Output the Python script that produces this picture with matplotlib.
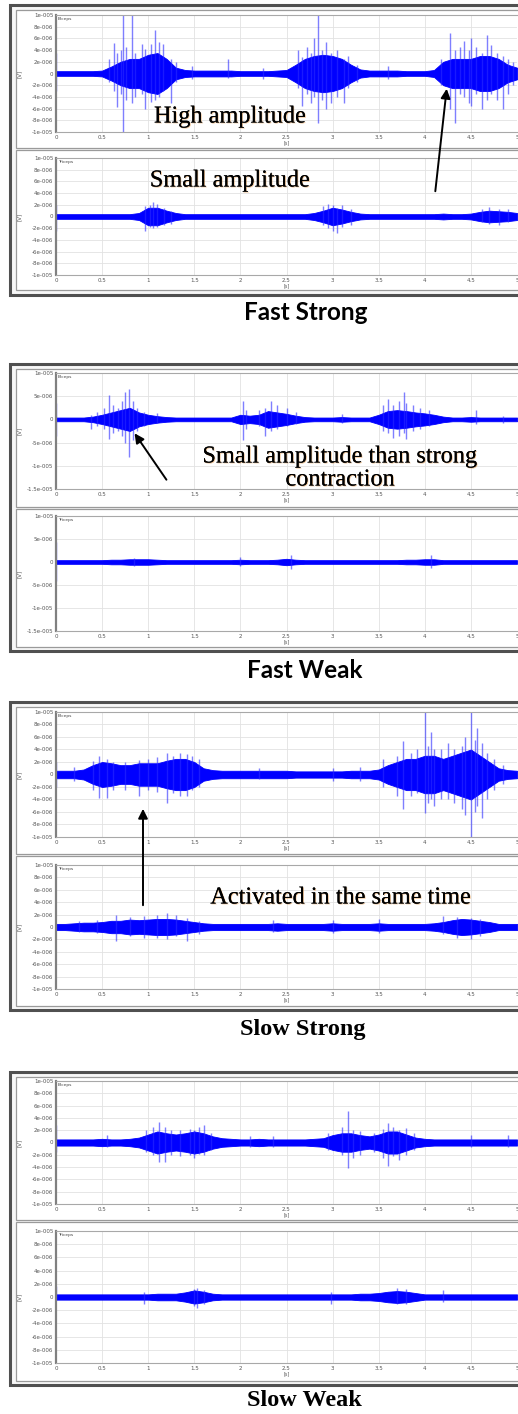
import numpy as np
import matplotlib
matplotlib.use('Agg')
import matplotlib.pyplot as plt
import matplotlib.patheffects as pe
from matplotlib.patches import Rectangle, FancyArrowPatch
from matplotlib.ticker import FuncFormatter

W, H = 518, 1414

# time grid of the envelope readings (s)
t_env = np.linspace(0, 5, 51)

# dense core amplitude of each trace, in 1e-6 V, read every 0.1 s
fs_bic_core = [0.4, 0.4, 0.4, 0.4, 0.4, 0.5, 1.2, 2.0, 2.5, 2.5,
               3.2, 3.5, 2.5, 1.0, 0.6, 0.5, 0.5, 0.5, 0.5, 0.5,
               0.4, 0.4, 0.4, 0.4, 0.5, 0.6, 1.5, 2.5, 3.0, 3.2,
               3.0, 2.5, 1.5, 0.7, 0.5, 0.5, 0.5, 0.5, 0.4, 0.4,
               0.4, 0.6, 2.0, 2.5, 2.5, 2.5, 3.0, 3.0, 2.5, 1.5,
               1.0]
fs_tri_core = [0.4, 0.4, 0.4, 0.4, 0.4, 0.4, 0.4, 0.4, 0.4, 0.6,
               1.5, 1.5, 1.0, 0.6, 0.4, 0.4, 0.4, 0.4, 0.4, 0.4,
               0.4, 0.4, 0.4, 0.4, 0.4, 0.4, 0.4, 0.4, 0.6, 1.0,
               1.5, 1.2, 0.8, 0.5, 0.4, 0.4, 0.4, 0.4, 0.4, 0.4,
               0.4, 0.4, 0.5, 0.4, 0.4, 0.5, 0.8, 1.0, 0.9, 0.8,
               0.6]
fw_bic_core = [0.4, 0.4, 0.4, 0.4, 0.6, 1.0, 1.5, 2.0, 2.5, 1.5,
               1.0, 0.7, 0.5, 0.4, 0.4, 0.4, 0.4, 0.4, 0.4, 0.4,
               1.0, 0.8, 1.0, 1.8, 1.5, 1.2, 0.8, 0.5, 0.4, 0.4,
               0.4, 0.5, 0.4, 0.4, 0.4, 1.0, 1.8, 2.0, 1.8, 1.5,
               1.3, 1.0, 0.6, 0.4, 0.4, 0.5, 0.4, 0.4, 0.4, 0.4,
               0.4]
fw_tri_core = [0.4, 0.4, 0.4, 0.4, 0.4, 0.4, 0.5, 0.5, 0.6, 0.6,
               0.6, 0.5, 0.4, 0.4, 0.4, 0.4, 0.4, 0.4, 0.4, 0.4,
               0.5, 0.4, 0.4, 0.4, 0.5, 0.7, 0.5, 0.4, 0.4, 0.4,
               0.4, 0.4, 0.4, 0.4, 0.4, 0.4, 0.4, 0.4, 0.5, 0.5,
               0.6, 0.6, 0.4, 0.4, 0.4, 0.4, 0.4, 0.4, 0.4, 0.4,
               0.4]
ss_bic_core = [0.6, 0.6, 0.6, 0.8, 1.5, 2.0, 1.8, 1.5, 1.5, 1.8,
               1.8, 1.8, 2.2, 2.5, 2.5, 2.0, 1.0, 0.7, 0.6, 0.6,
               0.6, 0.6, 0.6, 0.6, 0.6, 0.6, 0.5, 0.5, 0.5, 0.5,
               0.5, 0.5, 0.6, 0.6, 0.6, 0.8, 1.5, 2.0, 2.5, 2.5,
               3.0, 3.0, 2.5, 3.0, 3.5, 4.0, 3.0, 2.0, 1.0, 0.7,
               0.6]
ss_tri_core = [0.5, 0.5, 0.6, 0.7, 0.7, 0.8, 1.0, 1.0, 1.2, 1.1,
               1.2, 1.3, 1.3, 1.2, 1.0, 0.8, 0.6, 0.5, 0.5, 0.5,
               0.5, 0.5, 0.5, 0.5, 0.6, 0.5, 0.5, 0.5, 0.5, 0.5,
               0.6, 0.5, 0.5, 0.5, 0.5, 0.6, 0.5, 0.5, 0.5, 0.5,
               0.5, 0.6, 0.8, 1.1, 1.3, 1.2, 1.0, 0.8, 0.5, 0.5,
               0.5]
sw_bic_core = [0.5, 0.5, 0.5, 0.5, 0.5, 0.6, 0.5, 0.5, 0.6, 0.8,
               1.3, 1.8, 1.5, 1.3, 1.5, 1.8, 1.5, 1.0, 0.7, 0.6,
               0.5, 0.5, 0.6, 0.5, 0.5, 0.5, 0.5, 0.5, 0.6, 0.7,
               1.2, 1.5, 1.5, 1.2, 1.0, 1.3, 1.8, 1.8, 1.3, 0.8,
               0.6, 0.5, 0.5, 0.5, 0.5, 0.5, 0.5, 0.5, 0.5, 0.5,
               0.5]
sw_tri_core = [0.4, 0.4, 0.4, 0.4, 0.4, 0.4, 0.4, 0.4, 0.4, 0.4,
               0.4, 0.5, 0.5, 0.5, 0.7, 1.0, 0.8, 0.5, 0.4, 0.4,
               0.4, 0.4, 0.4, 0.4, 0.4, 0.4, 0.4, 0.4, 0.4, 0.4,
               0.4, 0.4, 0.4, 0.5, 0.5, 0.6, 0.8, 0.9, 0.8, 0.6,
               0.4, 0.4, 0.4, 0.4, 0.4, 0.4, 0.4, 0.4, 0.4, 0.4,
               0.4]

# single spikes: (time s, top, bottom) in 1e-6 V
fs_bic_spikes = [(0.005, 3.5, -3.0), (0.58, 2.5, -1.5), (0.63, 5.2, -3.0), (0.66, 3.5, -5.8),
                 (0.70, 4.0, -3.5), (0.73, 10, -10), (0.76, 4.5, -4.5), (0.82, 10, -5.0),
                 (0.86, 3.5, -4.0), (0.93, 5.0, -3.5), (0.97, 4.2, -6.0), (1.03, 5.0, -4.8),
                 (1.07, 7.5, -4.5), (1.12, 5.3, -4.0), (1.16, 5.0, -3.0), (1.25, 2.5, -5.0),
                 (1.30, 2.0, -1.5), (1.48, 1.3, -1.0), (1.87, 2.5, -0.8), (2.25, 1.0, -1.0),
                 (2.62, 4.0, -2.5), (2.67, 2.8, -5.5), (2.72, 4.5, -3.5), (2.77, 3.5, -5.0),
                 (2.80, 6.0, -4.0), (2.84, 10, -8.5), (2.88, 4.0, -4.5), (2.93, 5.3, -6.0),
                 (2.98, 3.5, -5.0), (3.05, 4.0, -4.0), (3.12, 2.5, -5.0), (3.17, 3.0, -2.5),
                 (3.27, 1.5, -1.5), (3.60, 1.2, -1.0), (4.18, 2.5, -2.0), (4.27, 7.0, -6.0),
                 (4.33, 4.0, -8.4), (4.38, 4.5, -3.5), (4.42, 5.5, -4.0), (4.48, 4.0, -5.0),
                 (4.50, 6.0, -5.5), (4.56, 4.5, -3.5), (4.62, 3.5, -6.0), (4.67, 6.5, -4.5),
                 (4.72, 4.8, -3.5), (4.78, 3.5, -4.5), (4.85, 3.0, -6.0), (4.90, 2.5, -3.5),
                 (4.96, 2.0, -2.0)]
fs_tri_spikes = [(0.005, 2.0, -2.5), (0.97, 1.8, -2.5), (1.02, 2.0, -1.8), (1.05, 2.5, -2.0),
                 (1.10, 2.2, -1.8), (1.17, 1.5, -1.5), (1.25, 1.0, -1.2), (2.90, 1.8, -1.5),
                 (2.95, 2.2, -2.0), (3.00, 2.0, -2.5), (3.05, 1.5, -2.8), (3.10, 2.0, -1.8),
                 (3.20, 1.2, -1.5), (4.62, 1.2, -1.0), (4.70, 1.7, -1.2), (4.80, 1.3, -1.5),
                 (4.90, 1.2, -1.0)]
fw_bic_spikes = [(0.005, 3.6, -3.6), (0.38, 1.0, -2.0), (0.45, 1.5, -1.5), (0.52, 2.5, -2.0),
                 (0.57, 5.2, -4.3), (0.62, 3.0, -3.0), (0.67, 2.5, -2.5), (0.72, 4.0, -3.5),
                 (0.75, 5.8, -5.0), (0.79, 6.6, -8.1), (0.83, 4.0, -4.5), (0.88, 2.5, -2.5),
                 (0.95, 1.5, -1.5), (1.10, 1.3, -0.8), (2.03, 4.0, -4.5), (2.06, 2.0, -2.0),
                 (2.20, 2.0, -1.5), (2.27, 2.5, -3.5), (2.33, 4.0, -2.5), (2.40, 3.0, -2.0),
                 (2.50, 2.5, -1.5), (2.60, 1.5, -1.0), (3.10, 1.2, -0.8), (3.55, 3.0, -2.5),
                 (3.60, 4.5, -3.0), (3.65, 3.0, -4.0), (3.72, 4.0, -3.5), (3.77, 6.0, -3.0),
                 (3.80, 3.5, -4.2), (3.87, 3.0, -2.5), (3.95, 2.5, -2.0), (4.05, 2.0, -1.5),
                 (4.55, 2.0, -1.0), (4.85, 0.8, -0.8)]
fw_tri_spikes = [(0.005, 4.3, -4.2), (0.85, 0.9, -0.9), (2.00, 1.0, -0.8), (2.55, 1.5, -1.5),
                 (4.07, 1.5, -1.2)]
ss_bic_spikes = [(0.005, 2.0, -2.0), (0.20, 1.2, -1.0), (0.40, 2.2, -2.5), (0.47, 2.9, -3.8),
                 (0.55, 2.5, -3.7), (0.62, 2.0, -2.5), (0.75, 2.0, -2.5), (0.90, 2.3, -3.5),
                 (1.00, 2.5, -2.5), (1.10, 2.8, -2.8), (1.20, 3.5, -4.5), (1.27, 3.0, -3.0),
                 (1.35, 3.5, -3.5), (1.42, 3.3, -3.5), (1.48, 3.0, -2.5), (1.55, 2.5, -2.0),
                 (2.20, 1.0, -0.8), (3.00, 1.0, -1.0), (3.30, 1.2, -1.0), (3.55, 2.5, -2.0),
                 (3.70, 3.0, -3.5), (3.76, 5.3, -5.5), (3.85, 3.5, -3.5), (3.92, 4.0, -3.0),
                 (4.00, 10, -6.2), (4.04, 4.5, -4.5), (4.07, 6.8, -4.0), (4.10, 4.0, -5.0),
                 (4.18, 4.0, -4.0), (4.25, 5.0, -4.0), (4.32, 4.0, -4.5), (4.40, 4.5, -5.5),
                 (4.44, 6.0, -6.5), (4.50, 10, -10), (4.54, 5.5, -6.0), (4.57, 7.5, -5.0),
                 (4.62, 5.0, -7.0), (4.67, 3.5, -4.0), (4.75, 2.5, -2.5), (4.85, 1.5, -1.5)]
ss_tri_spikes = [(0.25, 1.0, -0.8), (0.45, 1.2, -1.0), (0.65, 2.0, -2.3), (0.80, 1.6, -1.5),
                 (0.95, 1.8, -1.8), (1.10, 2.0, -1.7), (1.20, 2.2, -2.0), (1.30, 2.0, -1.5),
                 (1.42, 1.5, -2.2), (1.55, 1.0, -1.2), (2.35, 1.2, -0.8), (3.00, 1.2, -1.0),
                 (3.50, 1.3, -0.9), (4.20, 1.8, -1.2), (4.35, 1.6, -1.8), (4.50, 1.5, -2.0),
                 (4.60, 1.3, -1.5)]
sw_bic_spikes = [(0.005, 2.8, -1.5), (0.55, 1.2, -0.8), (0.98, 2.0, -1.5), (1.05, 2.5, -2.0),
                 (1.12, 3.4, -3.2), (1.18, 2.5, -3.2), (1.25, 2.0, -2.0), (1.35, 2.0, -2.2),
                 (1.45, 2.2, -2.0), (1.50, 2.0, -2.5), (1.55, 2.5, -1.8), (1.60, 2.9, -2.0),
                 (1.68, 1.5, -1.2), (2.10, 1.0, -0.8), (2.35, 1.0, -0.8), (2.95, 1.5, -1.2),
                 (3.10, 2.6, -2.0), (3.17, 5.1, -4.2), (3.22, 2.0, -2.5), (3.30, 1.8, -2.0),
                 (3.45, 1.5, -1.5), (3.55, 2.2, -2.5), (3.60, 3.1, -3.8), (3.66, 2.5, -2.2),
                 (3.72, 2.0, -2.8), (3.80, 2.3, -2.0), (3.88, 1.5, -1.2), (4.50, 1.2, -0.8),
                 (4.90, 1.2, -0.8)]
sw_tri_spikes = [(0.005, 1.7, -0.5), (0.95, 0.8, -1.0), (1.50, 1.2, -1.4), (1.53, 1.3, -1.6),
                 (1.60, 1.0, -1.0), (2.98, 0.8, -1.0), (3.70, 1.3, -1.1), (3.80, 1.2, -1.0),
                 (4.20, 1.0, -0.8)]

x_ticks = [0, 0.5, 1, 1.5, 2, 2.5, 3, 3.5, 4, 4.5, 5]
y_ticks_10 = [-10, -8, -6, -4, -2, 0, 2, 4, 6, 8, 10]
y_ticks_15 = [-15, -10, -5, 0, 5, 10]

captions = ['Fast Strong', 'Fast Weak', 'Slow Strong', 'Slow Weak']


def vfmt(v, pos):
    if abs(v) < 1e-9:
        return '0'
    s = '%g' % (v * 1e-6)
    mant, ex = s.split('e')
    return mant + 'e' + ex[0] + ex[1:].lstrip('0').zfill(3)


def rect(x0, y0, x1, y1):
    return [x0 / W, 1 - y1 / H, (x1 - x0) / W, (y1 - y0) / H]


def fx(x):
    return x / W


def fy(y):
    return 1 - y / H


fig = plt.figure(figsize=(W / 100, H / 100), dpi=100)
fig.patch.set_facecolor('white')

# window frames (outer) and panel boxes, in pixels from the top
frames = [(10, 5, 522, 295), (10, 364, 522, 651), (10, 702, 522, 1010), (10, 1072, 522, 1385)]
boxes = [(16, 10, 522, 148), (16, 150, 522, 290),
         (16, 369, 522, 507), (16, 509, 522, 647),
         (16, 707, 522, 854), (16, 856, 522, 1006),
         (16, 1077, 522, 1220), (16, 1222, 522, 1381)]
for f in frames:
    x0, y0, x1, y1 = f
    fig.add_artist(Rectangle((fx(x0), fy(y1)), (x1 - x0) / W, (y1 - y0) / H,
                             transform=fig.transFigure, facecolor='#f7f7f7',
                             edgecolor='#505050', lw=2.2, zorder=-3))
for b in boxes:
    x0, y0, x1, y1 = b
    fig.add_artist(Rectangle((fx(x0), fy(y1)), (x1 - x0) / W, (y1 - y0) / H,
                             transform=fig.transFigure, facecolor='white',
                             edgecolor='#9a9a9a', lw=0.9, zorder=-2))

panels = [
    (fs_bic_core, fs_bic_spikes, 'Biceps', (56, 15, 517, 132), (-10, 10), y_ticks_10),
    (fs_tri_core, fs_tri_spikes, 'Triceps', (56, 158, 517, 275), (-10, 10), y_ticks_10),
    (fw_bic_core, fw_bic_spikes, 'Biceps', (56, 373, 517, 489), (-15, 10), y_ticks_15),
    (fw_tri_core, fw_tri_spikes, 'Triceps', (56, 516, 517, 631), (-15, 10), y_ticks_15),
    (ss_bic_core, ss_bic_spikes, 'Biceps', (56, 712, 517, 837), (-10, 10), y_ticks_10),
    (ss_tri_core, ss_tri_spikes, 'Triceps', (56, 865, 517, 989), (-10, 10), y_ticks_10),
    (sw_bic_core, sw_bic_spikes, 'Biceps', (56, 1081, 517, 1204), (-10, 10), y_ticks_10),
    (sw_tri_core, sw_tri_spikes, 'Triceps', (56, 1231, 517, 1363), (-10, 10), y_ticks_10),
]

for core, spikes, name, pos, ylim, yt in panels:
    ax = fig.add_axes(rect(*pos))
    ax.set_xlim(0, 5)
    ax.set_ylim(*ylim)
    ax.set_xticks(x_ticks)
    ax.set_xticklabels(['%g' % v for v in x_ticks])
    ax.set_yticks(yt)
    ax.yaxis.set_major_formatter(FuncFormatter(vfmt))
    ax.grid(True, color='#e2e2e2', lw=0.6)
    ax.set_axisbelow(True)
    ax.tick_params(length=0, pad=2, labelsize=4, labelcolor='#555555')
    for s in ['top', 'bottom']:
        ax.spines[s].set_color('#a8a8a8')
        ax.spines[s].set_linewidth(0.8)
    ax.spines['left'].set_color('#808080')
    ax.spines['left'].set_linewidth(1.6)
    ax.spines['right'].set_visible(False)
    core = np.array(core)
    ax.fill_between(t_env, -core, core, color='#0000ff', lw=0.6, edgecolor='#0000ff')
    st = [s[0] for s in spikes]
    sh = [s[1] for s in spikes]
    sl = [s[2] for s in spikes]
    ax.vlines(st, sl, sh, color='#2a2aff', lw=1.0, alpha=0.6)
    ax.text(0.004, 0.985, name, transform=ax.transAxes, fontsize=3.2,
            va='top', ha='left', color='#444444')
    ax.set_ylabel('[V]', fontsize=4, color='#555555')
    ax.yaxis.set_label_coords(-34 / 461, 0.5)
    ax.set_xlabel('[s]', fontsize=3.5, color='#555555', labelpad=0.5)

# annotations
serif = ['Liberation Serif', 'DejaVu Serif']
glow = [pe.withSimplePatchShadow(offset=(0.6, -0.6), shadow_rgbFace='#e08a30', alpha=0.5),
        pe.Normal()]
notes = [('High amplitude', 230, 117),
         ('Small amplitude', 230, 181),
         ('Small amplitude than strong', 340, 457),
         ('contraction', 340, 480),
         ('Activated in the same time', 341, 898)]
for txt, x, y in notes:
    fig.text(fx(x), fy(y), txt, ha='center', va='center', fontsize=17.5,
             family=serif, color='black', path_effects=glow)

arrows = [((435, 194), (447, 86)), ((168, 482), (133, 431)), ((143, 908), (143, 806))]
for tail, head in arrows:
    fig.add_artist(FancyArrowPatch((fx(tail[0]), fy(tail[1])), (fx(head[0]), fy(head[1])),
                                   transform=fig.transFigure, arrowstyle='-|>',
                                   mutation_scale=14, lw=1.4, color='black', zorder=5))

# captions under each group
cap_pos = [(306, 313), (305, 670), (303, 1029), (304, 1401)]
cap_font = [['Lato', 'DejaVu Sans'], ['Lato', 'DejaVu Sans'], serif, serif]
for c, (x, y), fam in zip(captions, cap_pos, cap_font):
    fig.text(fx(x), fy(y), c, ha='center', va='center', fontsize=17.5,
             fontweight='bold', family=fam, color='black')

fig.savefig('out.png', dpi=100)
